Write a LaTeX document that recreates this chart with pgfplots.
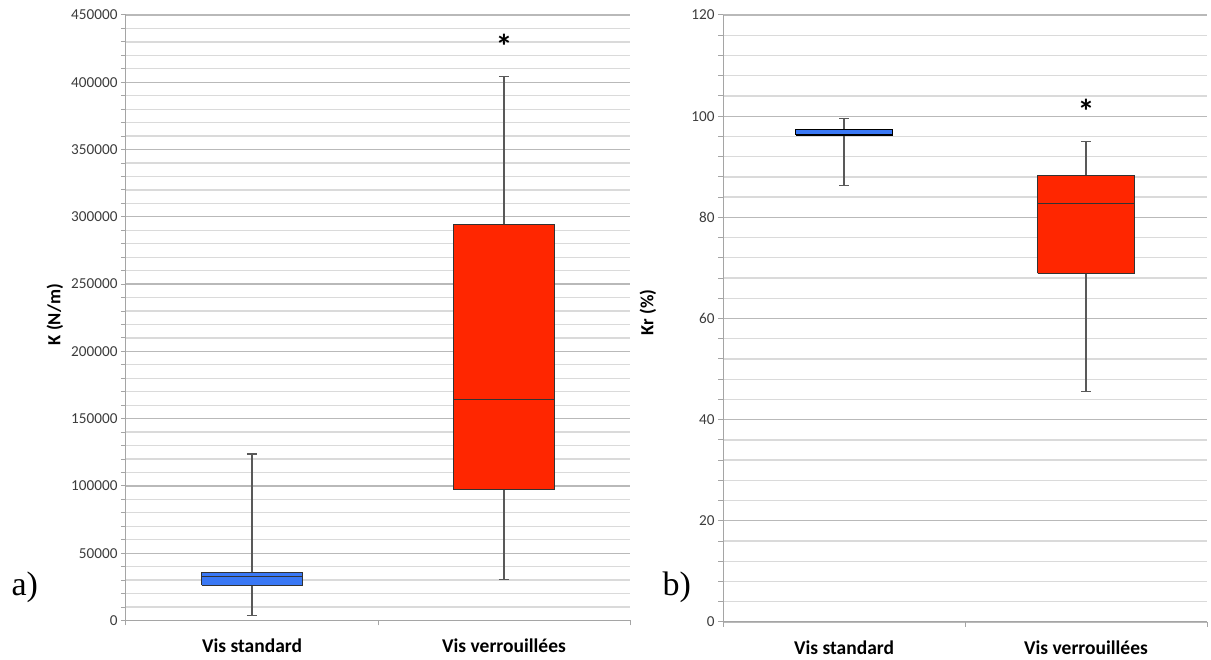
\documentclass[border=0pt]{standalone}
\usepackage{pgfplots}
\pgfplotsset{compat=1.18}
\usepackage{fontspec}
\setmainfont{Carlito}
\newfontfamily\serifpanel{Liberation Serif}
\definecolor{boxblue}{RGB}{58,120,245}
\definecolor{boxred}{RGB}{255,38,0}
\definecolor{gridmaj}{RGB}{185,185,185}
\definecolor{gridmin}{RGB}{218,218,218}
\definecolor{axisgray}{RGB}{165,165,165}
\definecolor{ticktext}{RGB}{60,60,60}
\pgfplotsset{
  excelbox/.style={
    scale only axis,
    anchor=south west,
    xmin=0, xmax=2,
    axis x line=bottom, axis y line=left,
    axis line style={axisgray, line width=1pt, -},
    tick align=outside,
    major tick length=5pt, minor tick length=5pt,
    tick style={axisgray, line width=1pt},
    xtick={0,1,2}, xticklabels={},
    extra x ticks={0.5,1.5},
    extra x tick labels={Vis standard, Vis verrouillées},
    extra x tick style={major tick length=0pt, tick label style={font=\fontsize{19.5}{22}\selectfont\bfseries, text=black, yshift=-15pt}},
    ymajorgrids, yminorgrids,
    major grid style={gridmaj, line width=1.3pt},
    minor grid style={gridmin, line width=1.3pt},
    minor y tick num=4,
    scaled y ticks=false,
    yticklabel style={/pgf/number format/fixed, /pgf/number format/1000 sep={}, /pgf/number format/assume math mode=true, font=\fontsize{15.2}{18}\selectfont, text=ticktext},
    ylabel style={font=\fontsize{18.5}{22}\selectfont\bfseries},
    clip=false,
  },
  whisk/.style={draw=black!65, line width=1.2pt, mark=none},
  boxs/.style={draw=black!80, line width=1pt, mark=none},
}
\begin{document}
\begin{tikzpicture}
\useasboundingbox (0pt,0pt) rectangle (1211pt,660pt);
% left panel (values in thousands of N/m)
\begin{axis}[excelbox,
  at={(126pt,39.5pt)}, width=504pt, height=605.5pt,
  ymin=0, ymax=450, ytick={0,50,...,450},
  yticklabels={0,50000,100000,150000,200000,250000,300000,350000,400000,450000},
  ylabel={K (N/m)},
  ylabel style={at={(axis description cs:-0.141,0.505)}, anchor=center},
]
% Vis standard: min 3.6, Q1 26.2, med 32.6, Q3 35.8, max 123.7
\addplot[whisk] coordinates {(0.5,3.6) (0.5,123.7)};
\addplot[whisk] coordinates {(0.48,3.6) (0.52,3.6)};
\addplot[whisk] coordinates {(0.48,123.7) (0.52,123.7)};
\addplot[boxs, fill=boxblue] coordinates {(0.3,26.2) (0.7,26.2) (0.7,35.8) (0.3,35.8) (0.3,26.2)};
\addplot[boxs] coordinates {(0.3,32.6) (0.7,32.6)};
% Vis verrouillees: min 30.6, Q1 97.0, med 164.4, Q3 294.4, max 404.0
\addplot[whisk] coordinates {(1.5,30.6) (1.5,404.0)};
\addplot[whisk] coordinates {(1.48,30.6) (1.52,30.6)};
\addplot[whisk] coordinates {(1.48,404.0) (1.52,404.0)};
\addplot[boxs, fill=boxred] coordinates {(1.3,97.0) (1.7,97.0) (1.7,294.4) (1.3,294.4) (1.3,97.0)};
\addplot[boxs, line width=0.8pt] coordinates {(1.3,164.4) (1.7,164.4)};
\node[font=\fontsize{34}{34}\selectfont\bfseries] at (axis cs:1.5,427) {*};
\end{axis}
\node[font=\serifpanel\fontsize{34}{34}\selectfont, anchor=base west] at (8pt,64pt) {a)};
% right panel
\begin{axis}[excelbox,
  at={(723pt,38pt)}, width=484pt, height=607pt,
  ymin=0, ymax=120, ytick={0,20,...,120},
  ylabel={Kr (\%)},
  ylabel style={at={(axis description cs:-0.155,0.51)}, anchor=center},
]
% Vis standard: min 86.3, Q1 96.3, med 96.8, Q3 97.3, max 99.5
\addplot[whisk] coordinates {(0.5,86.3) (0.5,99.5)};
\addplot[whisk] coordinates {(0.48,86.3) (0.52,86.3)};
\addplot[whisk] coordinates {(0.48,99.5) (0.52,99.5)};
\addplot[boxs, draw=black, line width=1.3pt, fill=boxblue] coordinates {(0.3,96.3) (0.7,96.3) (0.7,97.3) (0.3,97.3) (0.3,96.3)};
% Vis verrouillees: min 45.6, Q1 68.9, med 82.8, Q3 88.3, max 95.0
\addplot[whisk] coordinates {(1.5,45.6) (1.5,95.0)};
\addplot[whisk] coordinates {(1.48,45.6) (1.52,45.6)};
\addplot[whisk] coordinates {(1.48,95.0) (1.52,95.0)};
\addplot[boxs, fill=boxred] coordinates {(1.3,68.9) (1.7,68.9) (1.7,88.3) (1.3,88.3) (1.3,68.9)};
\addplot[boxs, line width=0.8pt] coordinates {(1.3,82.8) (1.7,82.8)};
\node[font=\fontsize{34}{34}\selectfont\bfseries] at (axis cs:1.5,101.0) {*};
\end{axis}
\node[font=\serifpanel\fontsize{34}{34}\selectfont, anchor=base west] at (659pt,64pt) {b)};
\end{tikzpicture}
\end{document}
